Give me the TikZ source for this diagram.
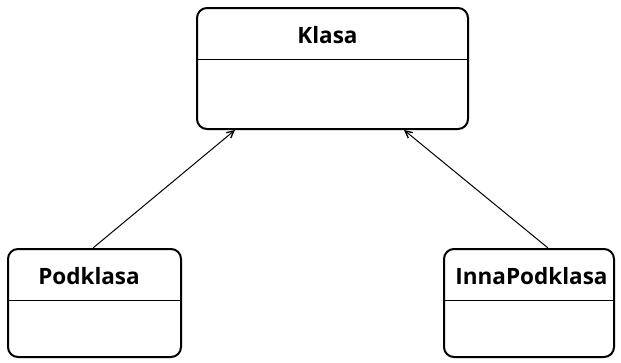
\documentclass[tikz,border=0pt]{standalone}
\usepackage{fontspec}
\setsansfont{Open Sans}
\usetikzlibrary{arrows.meta}
\begin{document}
\begin{tikzpicture}[x=1pt,y=-1pt,
  classbox/.style={draw=black,line width=2pt,rounded corners=10pt,inner sep=0pt,fill=white},
  title/.style={font=\sffamily\bfseries\fontsize{22.5}{26}\selectfont,inner sep=0pt},
  divider/.style={line width=1pt},
  gen/.style={line width=1pt,-{Straight Barb[length=7pt,width=7pt,line width=1.3pt]}}]
\useasboundingbox (0,0) rectangle (621,362);
\node[classbox,minimum width=271pt,minimum height=121pt] (k) at (332.5,68.5) {};
\node[title] (kt) at (327.5,35) {Klasa};
\draw[divider] ([yshift=-52pt]k.north west) -- ([yshift=-52pt]k.north east);
\node[classbox,minimum width=173pt,minimum height=108pt] (p) at (94.5,303) {};
\node[title] (pt) at (89,276) {Podklasa};
\draw[divider] ([yshift=-52pt]p.north west) -- ([yshift=-52pt]p.north east);
\node[classbox,minimum width=170pt,minimum height=108pt] (i) at (529,303) {};
\node[title] (it) at (531.5,276) {InnaPodklasa};
\draw[divider] ([yshift=-52pt]i.north west) -- ([yshift=-52pt]i.north east);
\coordinate (ka) at ([xshift=39pt]k.south west);
\coordinate (kb) at ([xshift=-65pt]k.south east);
\coordinate (pa) at ([xshift=-1.5pt]p.north);
\coordinate (ia) at ([xshift=19pt]i.north);
\draw[gen] (pa) -- (ka);
\draw[gen] (ia) -- (kb);
\end{tikzpicture}
\end{document}
